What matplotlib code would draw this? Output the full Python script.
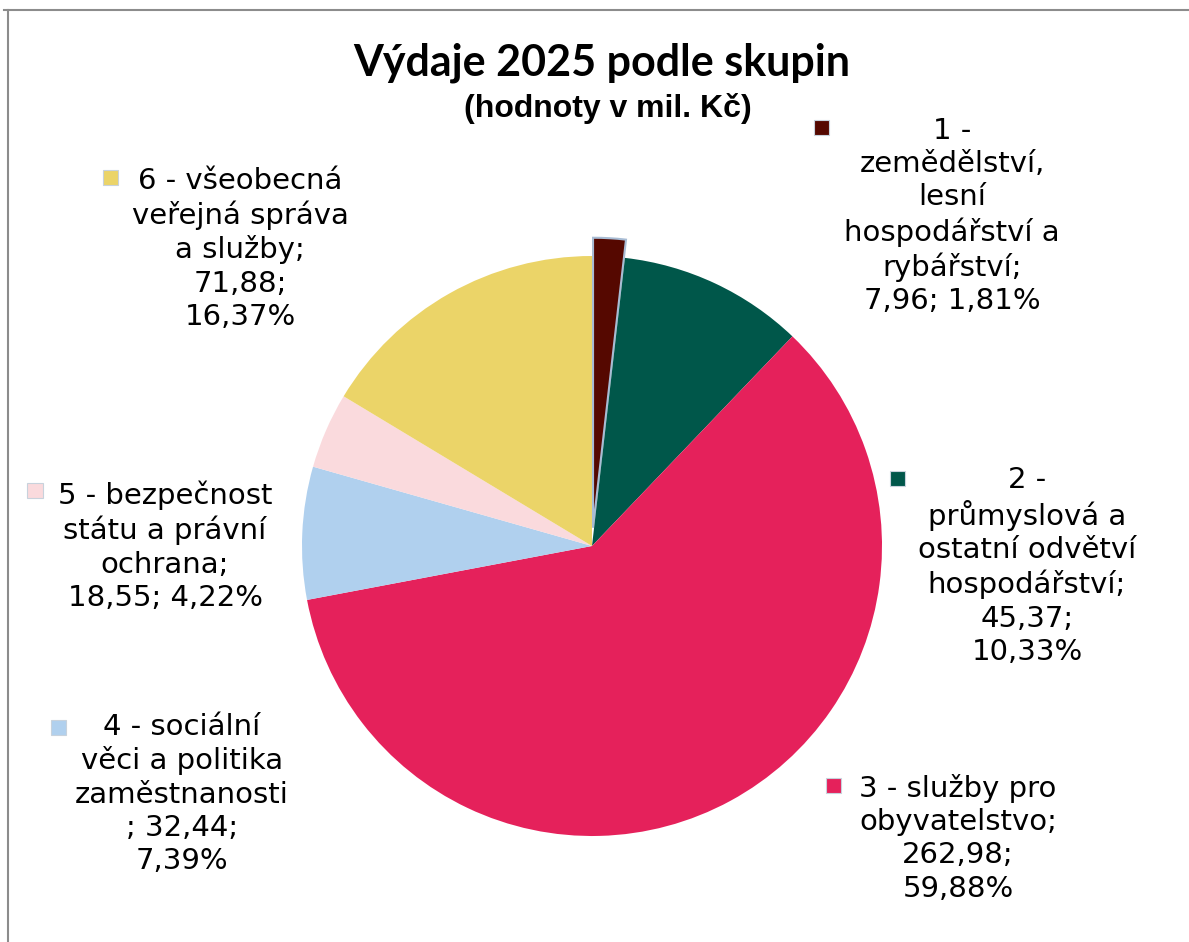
import matplotlib
matplotlib.use('Agg')
import matplotlib.pyplot as plt
from matplotlib.patches import Rectangle
from matplotlib.lines import Line2D

# data
skupiny = ['1 - zemědělství, lesní hospodářství a rybářství',
           '2 - průmyslová a ostatní odvětví hospodářství',
           '3 - služby pro obyvatelstvo',
           '4 - sociální věci a politika zaměstnanosti',
           '5 - bezpečnost státu a právní ochrana',
           '6 - všeobecná veřejná správa a služby']
hodnoty = [7.96, 45.37, 262.98, 32.44, 18.55, 71.88]
barvy = ['#550800', '#00574A', '#E5215B', '#B0D0EE', '#FADADD', '#EBD468']

# label line breaks as in the original chart
popisky = ['1 -\nzemědělství,\nlesní\nhospodářství a\nrybářství;\n{v}; {p}',
           '2 -\nprůmyslová a\nostatní odvětví\nhospodářství;\n{v};\n{p}',
           '3 - služby pro\nobyvatelstvo;\n{v};\n{p}',
           '4 - sociální\nvěci a politika\nzaměstnanosti\n; {v};\n{p}',
           '5 - bezpečnost\nstátu a právní\nochrana;\n{v}; {p}',
           '6 - všeobecná\nveřejná správa\na služby;\n{v};\n{p}']

W, H = 1189, 942
fig = plt.figure(figsize=(W / 100, H / 100), dpi=100)
fig.patch.set_facecolor('white')

# pie axes, centre (592, 546) px, radius 290 px
cx, cy, r = 592, 546, 290
half = r * 1.1
ax = fig.add_axes([(cx - half) / W, (H - cy - half) / H, 2 * half / W, 2 * half / H])

explode = [0.063, 0, 0, 0, 0, 0]
wedges, _ = ax.pie(hodnoty, colors=barvy, startangle=90, counterclock=False,
                   explode=explode, radius=1.0, frame=True)
ax.set_xlim(-1.1, 1.1)
ax.set_ylim(-1.1, 1.1)
ax.axis('off')
wedges[0].set_edgecolor('#A8BCD4')
wedges[0].set_linewidth(1.5)

total = sum(hodnoty)
fmt = lambda x: ('%.2f' % x).replace('.', ',')

# label positions (text centre x, first line y, marker x, marker y) in px
pos = [(952, 132, 821, 127),
       (1027, 481, 897, 478),
       (958, 789, 833, 785),
       (182, 728, 58, 727),
       (165, 496, 35, 490),
       (240, 182, 110, 177)]

fs = 21
em = fs * 100 / 72
for i, (tx, ty, mx, my) in enumerate(pos):
    txt = popisky[i].format(v=fmt(hodnoty[i]), p=fmt(hodnoty[i] / total * 100) + '%')
    fig.text(tx / W, 1 - (ty - 0.52 * em) / H, txt, ha='center', va='top',
             fontsize=fs, family='DejaVu Sans', color='black', linespacing=1.24)
    s = 15
    fig.patches.append(Rectangle(((mx - s / 2) / W, 1 - (my + s / 2) / H), s / W, s / H,
                                 transform=fig.transFigure, facecolor=barvy[i],
                                 edgecolor='#C8D2DC', linewidth=0.8))

# titles
fig.text(602 / W, 1 - 63 / H, 'Výdaje 2025 podle skupin', ha='center', va='center',
         fontsize=31, fontweight='bold', family='Lato')
fig.text(608 / W, 1 - 108 / H, '(hodnoty v mil. Kč)', ha='center', va='center',
         fontsize=23, fontweight='bold', family='Liberation Sans')

# chart frame (top and left edges visible)
fig.add_artist(Line2D([4 / W, 1], [1 - 10 / H, 1 - 10 / H], transform=fig.transFigure,
                      color='#8C8C8C', lw=1.5))
fig.add_artist(Line2D([8 / W, 8 / W], [0, 1 - 10 / H], transform=fig.transFigure,
                      color='#8C8C8C', lw=1.5))

fig.savefig('out.png', dpi=100)
